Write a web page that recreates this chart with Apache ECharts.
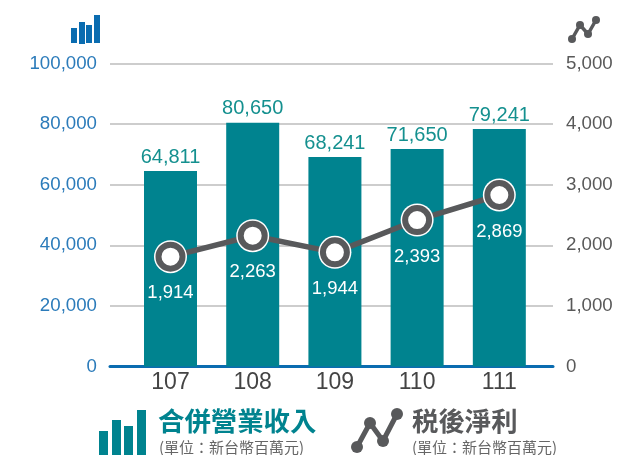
<!DOCTYPE html>
<html>
<head>
<meta charset="utf-8">
<style>
html, body { margin: 0; padding: 0; background: #fff; }
#chart { width: 617px; height: 455px; }
</style>
<script src="https://cdn.jsdelivr.net/npm/echarts@6/dist/echarts.min.js"></script>
</head>
<body>
<div id="chart"></div>
<script>
const years = [107, 108, 109, 110, 111]
// printed labels
const revenue = [64811, 80650, 68241, 71650, 79241]
const netIncome = [1914, 2263, 1944, 2393, 2869]
// heights; the original marks sit a little off their printed values
const revenuePlotted = [64520, 80460, 69140, 71780, 78380]
const netIncomePlotted = [1812, 2158, 1884, 2417, 2830]

const TEAL = '#00838f'
const BLUE = '#0a6cb0'
const GRAY = '#58595b'
const FONT = '"Liberation Sans", Arial, sans-serif'
const CJK = '"Noto Sans CJK TC", sans-serif'

const fmt = (v) => Number(v).toLocaleString('en-US')
const rect = (x, y, width, height, fill) => ({ type: 'rect', shape: { x, y, width, height }, style: { fill } })

// legend and corner icons are drawn as decoration
function lineIcon(pts, r, lineWidth) {
  return [
    { type: 'polyline', shape: { points: pts }, style: { stroke: GRAY, lineWidth, fill: null } },
    ...pts.map(([cx, cy]) => ({ type: 'circle', shape: { cx, cy, r }, style: { fill: GRAY } })),
  ]
}
const text = (x, y, str, size, fill, weight) => ({
  type: 'text', x, y,
  style: { text: str, fill, font: `${weight || 'normal'} ${size}px ${CJK}`, textVerticalAlign: 'middle' },
})

const chart = echarts.init(document.getElementById('chart'), null, { renderer: 'canvas' })
chart.setOption({
  animation: false,
  backgroundColor: '#fff',
  grid: { left: 110, width: 443, top: 63.5, height: 303 },
  xAxis: {
    type: 'value',
    min: 106.264,
    max: 111.653,
    splitLine: { show: false },
    axisTick: { show: false },
    axisLine: { lineStyle: { color: BLUE, width: 3 } },
    axisLabel: {
      customValues: years,
      color: '#444',
      fontFamily: FONT,
      fontSize: 23,
      margin: 5,
      formatter: (v) => String(v),
    },
  },
  yAxis: [
    {
      type: 'value',
      min: 0,
      max: 100000,
      interval: 20000,
      axisLine: { show: false },
      axisTick: { show: false },
      splitLine: { lineStyle: { color: '#cdcdcd', width: 2 } },
      axisLabel: { color: '#2b7bba', fontFamily: FONT, fontSize: 18.7, margin: 13, padding: [0, 0, 5, 0], formatter: fmt },
    },
    {
      type: 'value',
      min: 0,
      max: 5000,
      interval: 1000,
      axisLine: { show: false },
      axisTick: { show: false },
      splitLine: { show: false },
      axisLabel: { color: '#595959', fontFamily: FONT, fontSize: 18.7, margin: 13, padding: [0, 0, 5, 0], formatter: fmt },
    },
  ],
  series: [
    {
      type: 'bar',
      yAxisIndex: 0,
      barWidth: 53,
      data: years.map((y, i) => [y, revenuePlotted[i]]),
      itemStyle: { color: TEAL },
      label: {
        show: true,
        position: 'top',
        distance: 4,
        color: '#14908f',
        fontFamily: FONT,
        fontSize: 20,
        formatter: (p) => fmt(revenue[p.dataIndex]),
      },
      z: 2,
    },
    {
      type: 'line',
      yAxisIndex: 1,
      data: years.map((y, i) => [y, netIncomePlotted[i]]),
      symbol: 'none',
      lineStyle: { color: GRAY, width: 5.5 },
      z: 3,
    },
    {
      // white halo around the markers
      type: 'scatter',
      yAxisIndex: 1,
      data: years.map((y, i) => [y, netIncomePlotted[i]]),
      symbolSize: 33,
      itemStyle: { color: '#fff', opacity: 1 },
      z: 4,
    },
    {
      type: 'scatter',
      yAxisIndex: 1,
      data: years.map((y, i) => [y, netIncomePlotted[i]]),
      symbolSize: 24,
      itemStyle: { color: '#fff', borderColor: GRAY, borderWidth: 6, opacity: 1 },
      label: {
        show: true,
        position: 'bottom',
        distance: 12,
        color: '#fff',
        fontFamily: FONT,
        fontSize: 18.5,
        formatter: (p) => fmt(netIncome[p.dataIndex]),
      },
      z: 5,
    },
  ],
  graphic: [
    rect(71, 28, 6, 15, BLUE),
    rect(79, 22, 6, 22, BLUE),
    rect(86, 25, 6, 18, BLUE),
    rect(94, 15, 6, 28, BLUE),
    ...lineIcon([[572, 39], [580, 25], [588, 34], [596, 20]], 4, 3.5),
    rect(99, 431, 9, 24, TEAL),
    rect(112, 420, 9, 35, TEAL),
    rect(124, 426, 9, 29, TEAL),
    rect(137, 410, 9, 45, TEAL),
    text(158, 421, '合併營業收入', 26.4, TEAL, 'bold'),
    text(159, 447, '(單位：新台幣百萬元)', 15, '#666'),
    ...lineIcon([[357, 447], [370, 423], [383, 441], [397, 414]], 6, 5),
    text(412, 421, '税後淨利', 26.4, GRAY, 'bold'),
    text(412, 447, '(單位：新台幣百萬元)', 15, '#666'),
  ],
})
</script>
</body>
</html>
